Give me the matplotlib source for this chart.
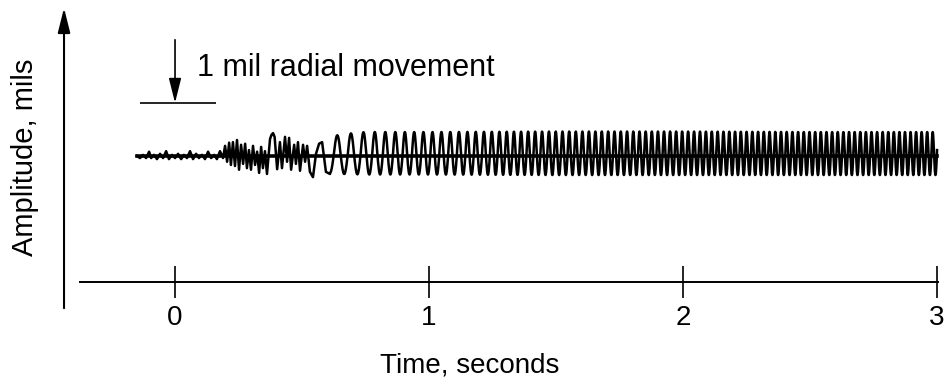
import numpy as np
import matplotlib
matplotlib.use("Agg")
import matplotlib.pyplot as plt

plt.rcParams['font.family'] = ['Liberation Sans', 'DejaVu Sans']

# --- data (time in s, amplitude in mils) ---
# start-up noise before the rub
noise_t = [-0.150, -0.138, -0.126, -0.114, -0.102, -0.094, -0.083, -0.071, -0.059, -0.047,
           -0.035, -0.024, -0.012, 0.000, 0.012, 0.024, 0.035, 0.047, 0.059, 0.071,
           0.083, 0.094, 0.106, 0.118, 0.130, 0.142, 0.154, 0.165, 0.177, 0.189]
noise_y = [0.00, -0.04, 0.02, -0.04, 0.08, -0.04, 0.02, -0.06, 0.04, -0.04,
           0.09, -0.06, 0.02, -0.04, 0.04, -0.06, 0.02, -0.04, 0.09, -0.06,
           0.04, -0.04, 0.02, -0.06, 0.08, -0.04, 0.02, -0.06, 0.09, -0.04]

# irregular burst
burst_t = [0.197, 0.205, 0.213, 0.220, 0.228, 0.236, 0.244, 0.252, 0.260, 0.268,
           0.276, 0.283, 0.291, 0.299, 0.307, 0.315, 0.323, 0.331, 0.339, 0.346,
           0.354, 0.362, 0.374, 0.380, 0.386, 0.392, 0.402, 0.413, 0.421, 0.433,
           0.441, 0.449, 0.457, 0.469, 0.476, 0.484, 0.492, 0.504, 0.512, 0.520,
           0.531, 0.543, 0.555, 0.567, 0.579, 0.594, 0.610]
burst_y = [0.19, -0.11, 0.25, -0.17, 0.26, -0.19, 0.30, -0.26, 0.21, -0.15,
           0.23, -0.23, 0.11, -0.26, 0.19, -0.17, 0.08, -0.32, 0.17, -0.23,
           0.09, -0.34, 0.32, 0.40, 0.43, 0.36, -0.25, 0.26, -0.23, 0.36,
           -0.11, 0.34, -0.26, 0.21, -0.15, 0.26, -0.28, 0.21, -0.11, 0.19,
           -0.30, -0.40, 0.04, 0.23, 0.26, -0.30, -0.34]

# steady whirl: frequency (Hz) and peak levels read at several times
whirl_t = [0.610, 0.70, 0.80, 0.90, 1.05, 1.20, 1.30, 1.70, 2.20, 3.00]
whirl_hz = [17.0, 19.5, 24.0, 27.0, 28.5, 31.0, 35.0, 40.0, 44.0, 46.0]
peak_t = [0.610, 0.66, 0.75, 1.00, 1.50, 2.00, 2.50, 3.00]
peak_up = [0.36, 0.41, 0.45, 0.45, 0.46, 0.46, 0.45, 0.45]
peak_dn = [-0.32, -0.34, -0.35, -0.35, -0.36, -0.36, -0.36, -0.36]

ticks = [0, 1, 2, 3]
tick_labels = ['0', '1', '2', '3']

# build the whirl waveform from the read frequency / peaks
tw = np.arange(whirl_t[0], whirl_t[-1], 0.0002)
f = np.interp(tw, whirl_t, whirl_hz)
phase = 2 * np.pi * np.cumsum(f) * 0.0002 - np.pi / 2
s = np.sin(phase)
yw = np.where(s > 0, s * np.interp(tw, peak_t, peak_up), -s * np.interp(tw, peak_t, peak_dn))

t_all = np.concatenate([noise_t, burst_t, tw])
y_all = np.concatenate([noise_y, burst_y, yw])

fig = plt.figure(figsize=(9.46, 3.84), dpi=100)
ax = fig.add_axes([0, 0, 1, 1])
ax.set_xlim(-0.689, 3.035)
ax.set_ylim(-4.30, 2.94)

ax.plot([noise_t[0], whirl_t[-1]], [0, 0], color='black', lw=2.6)
ax.plot(t_all, y_all, color='black', lw=1.8)

# axes
for sp in ['top', 'right', 'left']:
    ax.spines[sp].set_visible(False)
ax.spines['bottom'].set_position(('data', -2.377))
ax.spines['bottom'].set_bounds(-0.374, 3.004)
ax.spines['bottom'].set_linewidth(1.4)
ax.set_xticks(ticks)
ax.set_xticklabels(tick_labels)
ax.tick_params(axis='x', direction='inout', length=23, width=1.2, pad=5, labelsize=20)
ax.set_yticks([])

ax.annotate('', xy=(-0.437, 2.79), xytext=(-0.437, -2.87),
            arrowprops=dict(arrowstyle='-|>,head_length=1.0,head_width=0.25',
                            mutation_scale=15, lw=1.5, color='black',
                            shrinkA=0, shrinkB=0))

ax.set_xlabel('Time, seconds', fontsize=20, va='center')
ax.xaxis.set_label_coords(0.497, 1 - 365 / 384)
ax.set_ylabel('Amplitude, mils', fontsize=21, va='center')
ax.yaxis.set_label_coords(0.026, 1 - 157 / 384)

# scale marker
ax.annotate('', xy=(0, 1.0), xytext=(0, 2.19),
            arrowprops=dict(arrowstyle='-|>,head_length=1.0,head_width=0.25',
                            mutation_scale=15, lw=1.2, color='black',
                            shrinkA=0, shrinkB=0))
ax.hlines(1.0, -0.138, 0.163, color='black', lw=1.2)
ax.text(0.087, 1.66, '1 mil radial movement', fontsize=22, va='center', ha='left')

fig.savefig('out.png', dpi=100)
